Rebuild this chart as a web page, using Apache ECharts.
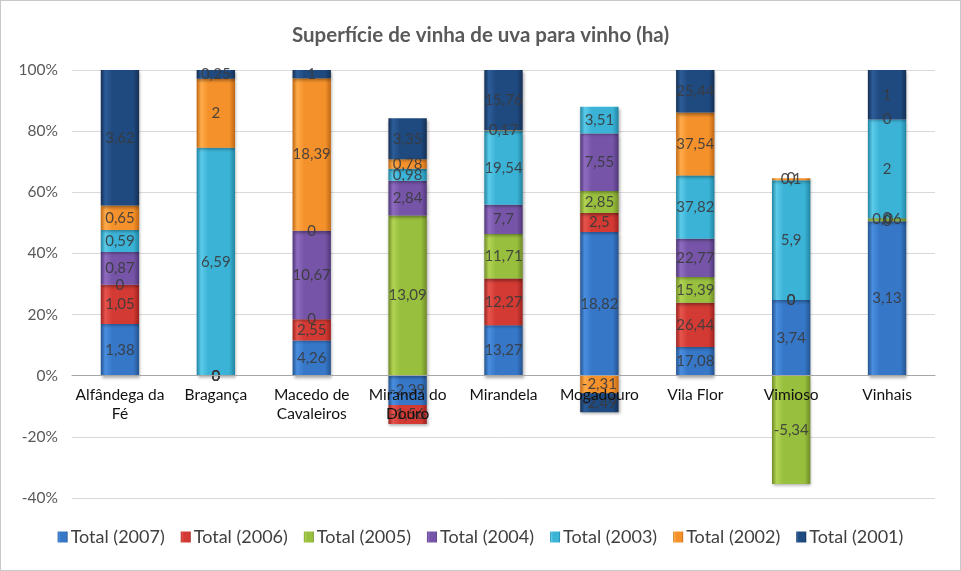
<!DOCTYPE html>
<html>
<head>
<meta charset="utf-8">
<script src="https://cdn.jsdelivr.net/npm/echarts@6/dist/echarts.min.js"></script>
<style>
html,body{margin:0;padding:0;background:#fff;}
#wrap{width:961px;height:571px;box-sizing:border-box;border:1px solid #c8c8c8;}
#chart{width:959px;height:569px;}
</style>
</head>
<body>
<div id="wrap"><div id="chart"></div></div>
<script>
const categories = ['Alfândega da\nFé', 'Bragança', 'Macedo de\nCavaleiros', 'Miranda do\nDouro', 'Mirandela', 'Mogadouro', 'Vila Flor', 'Vimioso', 'Vinhais'];
const seriesNames = ['Total (2007)', 'Total (2006)', 'Total (2005)', 'Total (2004)', 'Total (2003)', 'Total (2002)', 'Total (2001)'];
const v2007 = [1.38, 0, 4.26, -2.39, 13.27, 18.82, 17.08, 3.74, 3.13];
const v2006 = [1.05, 0, 2.55, -1.56, 12.27, 2.5, 26.44, 0, 0];
const v2005 = [0, 0, 0, 13.09, 11.71, 2.85, 15.39, -5.34, 0.06];
const v2004 = [0.87, 0, 10.67, 2.84, 7.7, 7.55, 22.77, 0, 0];
const v2003 = [0.59, 6.59, 0, 0.98, 19.54, 3.51, 37.82, 5.9, 2];
const v2002 = [0.65, 2, 18.39, 0.78, 0.17, -2.31, 37.54, 0.1, 0];
const v2001 = [3.62, 0.25, 1, 3.35, 15.76, -2.49, 25.44, 0, 1];
const yTicks = [-40, -20, 0, 20, 40, 60, 80, 100];

const allValues = [v2007, v2006, v2005, v2004, v2003, v2002, v2001];
const colors = [
  ['#2f66b0', '#4a8ee0', '#3677c8', '#24548f'],
  ['#b52a25', '#e6544d', '#d33a33', '#9c221e'],
  ['#7e9f2c', '#b2d454', '#98bf3e', '#6f8c26'],
  ['#5e4190', '#8f6cc0', '#7655a8', '#4f3679'],
  ['#2a97b8', '#5ccbea', '#3bb3d6', '#2185a3'],
  ['#d8761a', '#ffab4a', '#f5912b', '#c06814'],
  ['#183b66', '#2c5c98', '#1f4a80', '#142f54']
];
const totals = categories.map((c, i) => allValues.reduce((s, arr) => s + Math.abs(arr[i]), 0));

function grad(c) {
  return new echarts.graphic.LinearGradient(0, 0, 1, 0, [
    {offset: 0, color: c[3]},
    {offset: 0.12, color: c[1]},
    {offset: 0.3, color: c[2]},
    {offset: 0.85, color: c[2]},
    {offset: 1, color: c[3]}
  ]);
}
const FONT = 'Lato, "Liberation Sans", sans-serif';

// zero values are kept on the positive stack, as in the original
const series = allValues.map((arr, si) => ({
  name: seriesNames[si],
  type: 'bar',
  stack: 'total',
  barWidth: '40%',
  data: arr.map((v, i) => ({value: v === 0 ? 1e-9 : v / totals[i] * 100, raw: v})),
  itemStyle: {
    color: grad(colors[si]),
    shadowColor: 'rgba(0,0,0,0.35)',
    shadowBlur: 3,
    shadowOffsetX: 1,
    shadowOffsetY: 2
  },
  label: {
    show: true,
    position: 'inside',
    fontFamily: FONT,
    fontSize: 15,
    color: 'rgba(58,58,60,0.9)',
    formatter: p => String(p.data.raw).replace('.', ',')
  }
}));

const chart = echarts.init(document.getElementById('chart'));
chart.setOption({
  animation: false,
  backgroundColor: '#fff',
  color: colors.map(c => c[2]),
  title: {
    text: 'Superfície de vinha de uva para vinho (ha)',
    left: 'center',
    top: 19,
    textStyle: {fontFamily: FONT, fontSize: 20.5, fontWeight: 'bold', color: '#595959'}
  },
  legend: {
    bottom: 19,
    left: 'center',
    itemWidth: 10,
    itemHeight: 11,
    itemGap: 16,
    icon: 'rect',
    textStyle: {fontFamily: FONT, fontSize: 18, color: '#404040', padding: [0, 0, 0, -2]},
    data: seriesNames
  },
  grid: {left: 71, right: 25, top: 69, bottom: 72},
  xAxis: {
    type: 'category',
    data: categories,
    z: 10,
    offset: -122.6,
    axisLine: {onZero: false, lineStyle: {color: '#a6a6a6', width: 1}},
    axisTick: {show: false},
    axisLabel: {fontFamily: FONT, fontSize: 15.5, color: '#111', margin: 10, lineHeight: 19, interval: 0}
  },
  yAxis: {
    type: 'value',
    min: -40,
    max: 100,
    interval: 20,
    axisLine: {show: false},
    axisTick: {show: false},
    splitLine: {lineStyle: {color: '#d9d9d9'}},
    axisLabel: {
      fontFamily: FONT, fontSize: 15.5, color: '#595959', margin: 14,
      formatter: v => (yTicks.indexOf(v) >= 0 ? v + '%' : '')
    }
  },
  series: series
});
</script>
</body>
</html>
